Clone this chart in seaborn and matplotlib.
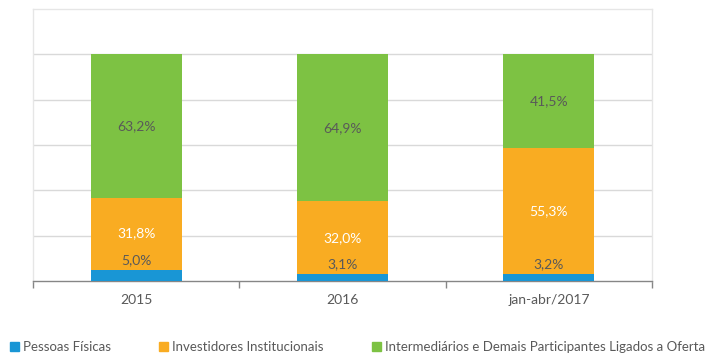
import matplotlib
matplotlib.use("Agg")
import matplotlib.pyplot as plt
import seaborn as sns
import pandas as pd
import numpy as np

# Participação por tipo de investidor (%)
periods = ["2015", "2016", "jan-abr/2017"]
pessoas_fisicas = [5.0, 3.1, 3.2]
investidores_inst = [31.8, 32.0, 55.3]
intermediarios = [63.2, 64.9, 41.5]
series_names = ["Pessoas Físicas", "Investidores Institucionais",
                "Intermediários e Demais Participantes Ligados a Oferta"]
colors = ["#1996d5", "#f9ac22", "#7dc243"]
text_gray = "#595959"

sns.set_theme(style="white")
plt.rcParams["font.family"] = ["Lato", "DejaVu Sans"]

df = pd.DataFrame({
    "periodo": periods,
    "pf": pessoas_fisicas,
    "ii": investidores_inst,
    "im": intermediarios,
})
# cumulative heights: draw the tallest layer first, then overlay the lower ones
df["cum_pf"] = df["pf"]
df["cum_ii"] = df["pf"] + df["ii"]
df["cum_im"] = df["pf"] + df["ii"] + df["im"]

fig = plt.figure(figsize=(7.09, 3.54), dpi=100)
ax = fig.add_axes([33 / 709, 1 - 281 / 354, (652 - 33) / 709, (281 - 9) / 354])

for col, color in zip(["cum_im", "cum_ii", "cum_pf"], colors[::-1]):
    sns.barplot(data=df, x="periodo", y=col, color=color, width=0.44,
                saturation=1, ax=ax, zorder=3, linewidth=0)

ax.set_ylim(0, 120)
ax.set_xlim(-0.5, 2.5)
ax.set_yticks([20, 40, 60, 80, 100])
ax.set_yticklabels([])
ax.tick_params(axis="y", length=0)
ax.yaxis.grid(True, color="#d9d9d9", linewidth=1, zorder=0)
ax.set_axisbelow(True)
ax.set_xlabel("")
ax.set_ylabel("")

# category boundary tick marks
ax.set_xticks([-0.5, 0.5, 1.5, 2.5], minor=True)
ax.tick_params(axis="x", which="minor", length=5, width=1, color="#868686",
               direction="out", bottom=True)
ax.tick_params(axis="x", which="major", length=0, pad=9, labelsize=10,
               labelcolor=text_gray)

for side in ["left", "top", "right"]:
    ax.spines[side].set_color("#e6e6e6")
    ax.spines[side].set_linewidth(1)
ax.spines["bottom"].set_color("#868686")
ax.spines["bottom"].set_linewidth(1)

def fmt(v):
    return f"{v:.1f}%".replace(".", ",")

for i in range(len(periods)):
    pf, ii, im = pessoas_fisicas[i], investidores_inst[i], intermediarios[i]
    ax.text(i, pf + 4.4, fmt(pf), ha="center", va="center", fontsize=10,
            color=text_gray, zorder=5)
    ax.text(i, pf + ii / 2, fmt(ii), ha="center", va="center", fontsize=10,
            color="white", zorder=5)
    ax.text(i, pf + ii + im / 2, fmt(im), ha="center", va="center",
            fontsize=10, color=text_gray, zorder=5)

handles = [plt.Rectangle((0, 0), 1, 1, color=c) for c in colors]
fig.legend(handles, series_names, loc="center left",
           bbox_to_anchor=(10 / 709, 1 - 347 / 354), ncol=3, frameon=False,
           fontsize=9.5, labelcolor=text_gray, handlelength=0.68,
           handleheight=0.68, handletextpad=0.3, columnspacing=3.65,
           borderpad=0, borderaxespad=0)

fig.savefig("out.png", dpi=100)
